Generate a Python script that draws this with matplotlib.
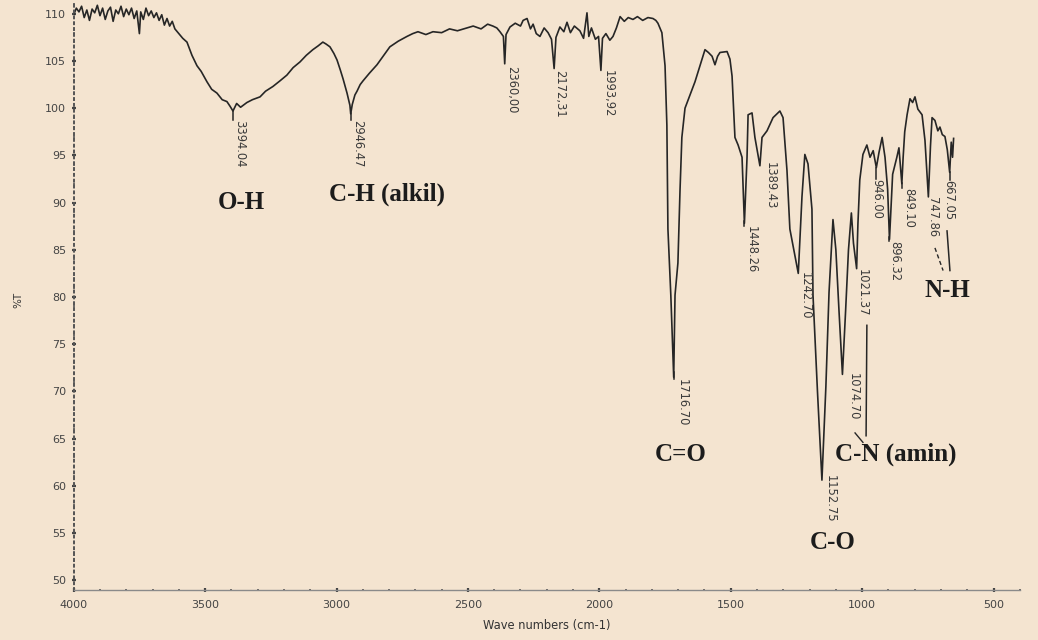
# FTIR spectrum (%T vs wave number) with peak and group labels

import matplotlib
matplotlib.use('Agg')
import matplotlib.pyplot as plt
from matplotlib.transforms import offset_copy
import numpy as np

# spectrum: wave number (cm-1) and %T
wavenumber = [
    4000, 3990, 3980, 3970, 3960, 3950, 3940, 3930, 3920, 3910,
    3900, 3890, 3880, 3870, 3860, 3850, 3840, 3830, 3820, 3810,
    3800, 3790, 3780, 3770, 3760, 3750, 3745, 3735, 3725, 3715,
    3705, 3695, 3685, 3675, 3665, 3655, 3645, 3635, 3625, 3615,
    3600, 3585, 3569, 3550, 3531, 3515, 3493, 3475, 3455, 3435,
    3417, 3405, 3394, 3380, 3365, 3341, 3320, 3291, 3270, 3242,
    3215, 3189, 3165, 3139, 3115, 3090, 3070, 3052, 3040, 3025,
    3010, 2998, 2985, 2975, 2960, 2949, 2946, 2940, 2930, 2922,
    2910, 2899, 2875, 2846, 2820, 2797, 2765, 2732, 2710, 2690,
    2660, 2633, 2600, 2570, 2540, 2504, 2480, 2450, 2425, 2405,
    2390, 2378, 2365, 2360, 2355, 2340, 2320, 2300, 2290, 2275,
    2262, 2252, 2240, 2226, 2210, 2195, 2182, 2172, 2165, 2150,
    2135, 2123, 2110, 2095, 2074, 2060, 2047, 2040, 2030, 2015,
    2003, 1994, 1988, 1975, 1960, 1948, 1935, 1921, 1905, 1890,
    1872, 1855, 1835, 1815, 1796, 1785, 1777, 1762, 1750, 1743,
    1739, 1728, 1717, 1712, 1701, 1693, 1686, 1674, 1655, 1636,
    1617, 1598, 1585, 1571, 1560, 1550, 1541, 1514, 1503, 1495,
    1484, 1472, 1457, 1448, 1438, 1434, 1419, 1408, 1389, 1381,
    1362, 1339, 1313, 1301, 1286, 1275, 1256, 1243, 1229, 1218,
    1206, 1191, 1187, 1170, 1153, 1138, 1126, 1111, 1100, 1088,
    1075, 1063, 1052, 1041, 1033, 1021, 1016, 1009, 997, 982,
    970, 958, 946, 936, 924, 913, 903, 896, 884, 868,
    860, 849, 844, 838, 829, 818, 808, 799, 788, 772,
    761, 748, 740, 734, 723, 712, 704, 695, 685, 676,
    667, 661, 656, 652,
]
transmittance = [
    109.9, 110.6, 110.2, 110.8, 109.6, 110.4, 109.3, 110.5, 110.1, 110.9,
    109.8, 110.6, 109.4, 110.3, 110.7, 109.2, 110.4, 110.0, 110.8, 109.7,
    110.5, 109.9, 110.6, 109.5, 110.3, 107.9, 110.2, 109.4, 110.6, 109.8,
    110.3, 109.6, 110.1, 109.3, 109.9, 108.8, 109.5, 108.7, 109.2, 108.4,
    107.9, 107.4, 107.0, 105.6, 104.5, 103.9, 102.8, 102.0, 101.6, 100.9,
    100.7, 100.2, 99.7, 100.5, 100.1, 100.6, 100.9, 101.2, 101.8, 102.3,
    102.9, 103.5, 104.3, 104.9, 105.6, 106.2, 106.6, 107.0, 106.8, 106.5,
    105.8, 105.1, 104.0, 103.1, 101.6, 100.3, 99.4, 100.4, 101.4, 101.8,
    102.5, 102.9, 103.7, 104.6, 105.6, 106.5, 107.1, 107.6, 107.9, 108.1,
    107.8, 108.1, 108.0, 108.4, 108.2, 108.5, 108.7, 108.4, 108.9, 108.7,
    108.5, 108.1, 107.6, 104.7, 107.8, 108.6, 109.0, 108.7, 109.3, 109.5,
    108.4, 108.9, 107.9, 107.6, 108.5, 108.0, 107.3, 104.2, 107.5, 108.6,
    108.1, 109.1, 108.0, 108.7, 108.2, 107.4, 110.1, 107.6, 108.5, 107.3,
    107.6, 104.0, 107.4, 107.9, 107.2, 107.6, 108.5, 109.7, 109.2, 109.6,
    109.4, 109.7, 109.3, 109.6, 109.5, 109.3, 109.0, 108.0, 104.5, 98.2,
    87.2, 80.2, 71.5, 80.2, 83.6, 91.3, 96.9, 100.0, 101.4, 102.8,
    104.5, 106.2, 105.9, 105.5, 104.6, 105.5, 105.9, 106.0, 105.2, 103.4,
    96.9, 96.1, 94.8, 87.8, 94.8, 99.3, 99.5, 96.9, 93.9, 96.9,
    97.6, 99.0, 99.7, 99.0, 93.4, 87.2, 84.4, 82.5, 90.6, 95.1,
    94.1, 89.3, 80.2, 70.0, 60.6, 70.5, 80.5, 88.2, 85.0, 78.5,
    71.8, 78.5, 85.0, 88.9, 85.7, 83.0, 87.8, 92.4, 95.1, 96.1,
    94.8, 95.5, 93.7, 95.3, 96.9, 94.8, 91.4, 86.1, 93.0, 94.8,
    95.8, 92.0, 94.8, 97.5, 99.3, 101.0, 100.6, 101.2, 99.9, 99.3,
    96.6, 90.6, 96.0, 99.0, 98.7, 97.6, 98.0, 97.2, 97.0, 95.6,
    93.2, 96.4, 94.8, 96.8,
]

# peak labels printed by the instrument software
peak_wn = [3394.04, 2946.47, 2360.00, 2172.31, 1993.92, 1716.70, 1448.26,
           1389.43, 1242.70, 1152.75, 1074.70, 1021.37, 946.00, 896.32,
           849.10, 747.86, 667.05]
peak_text = ['3394.04', '2946.47', '2360,00', '2172,31', '1993,92',
             '1716.70', '1448.26', '1389.43', '1242.70', '1152.75',
             '1074.70', '1021.37', '946.00', '896.32', '849.10',
             '747.86', '667.05']
peak_top = [98.75, 98.75, 104.5, 104.0, 104.0, 71.35, 87.5, 94.3, 82.6,
            61.15, 71.9, 83.0, 92.5, 85.9, 91.5, 90.6, 92.4]

# functional group names
group_text = ['O-H', 'C-H (alkil)', 'C=O', 'C-O', 'C-N (amin)', 'N-H']
group_wn = [3364, 2808, 1689, 1111, 871, 677]
group_t = [90.0, 90.9, 63.3, 54.0, 63.3, 80.7]

bg = '#F4E4D0'
ink = '#262626'

fig = plt.figure(figsize=(10.38, 6.4), dpi=100, facecolor=bg)
ax = fig.add_axes([0.0710, 0.0781, 0.9115, 0.9188])
ax.set_facecolor(bg)

ax.plot(wavenumber, transmittance, color=ink, linewidth=1.2)

ax.set_xlim(4000, 400)
ax.set_ylim(48.96, 111.25)

# peak labels with their short ticks
wn_up = np.array(wavenumber)[::-1]
t_up = np.array(transmittance)[::-1]
label_dx = [7, 7, 7, 6, 7, 8, 7, 10, 7, 8, 11, 6, 0, 5, 7, 4, -1]
for wn, txt, top, dx in zip(peak_wn, peak_text, peak_top, label_dx):
    t_min = np.interp(wn, wn_up, t_up)
    if t_min - top > 0.3:
        ax.plot([wn, wn], [t_min, top], color=ink, linewidth=1.1)
    trans = offset_copy(ax.transData, fig=fig, x=dx, y=0, units='dots')
    ax.text(wn, top, txt, transform=trans, rotation=-90, ha='center',
            va='top', fontsize=8.3, color='#3a3a3a')

# leader lines towards the group names
ax.plot([1027, 997], [65.6, 64.6], color=ink, linewidth=1.0)
ax.plot([982, 985], [77.0, 65.3], color=ink, linewidth=1.1)
ax.plot([723, 692], [85.2, 82.8], color=ink, linewidth=1.0,
        linestyle=(0, (3, 2)))
ax.plot([677, 666], [87.0, 82.8], color=ink, linewidth=1.1)

for txt, wn, t in zip(group_text, group_wn, group_t):
    ax.text(wn, t, txt, ha='center', va='center', fontsize=18,
            fontweight='bold', family='Liberation Serif', color='#1c1c1c')

# axes look: only left and bottom, dotted minor ticks
for side in ['top', 'right']:
    ax.spines[side].set_visible(False)
ax.spines['bottom'].set_color('#8a8a8a')
ax.spines['bottom'].set_linewidth(1.0)
ax.spines['left'].set_color('#555555')
ax.spines['left'].set_linewidth(1.4)
ax.spines['left'].set_linestyle((0, (1, 2)))

ax.set_xticks([4000, 3500, 3000, 2500, 2000, 1500, 1000, 500])
ax.set_xticks(np.arange(400, 4001, 100), minor=True)
ax.set_yticks(np.arange(50, 111, 5))
ax.set_yticks(np.arange(49, 112, 1), minor=True)
ax.tick_params(which='major', direction='inout', length=3, width=1.6,
               color='#444444', labelsize=8, labelcolor='#444444')
ax.tick_params(which='minor', direction='inout', length=2, width=1.2,
               color='#555555')
ax.tick_params(axis='x', which='major', pad=6)
ax.tick_params(axis='y', which='major', pad=4)

fig.text(18 / 1038, 1 - 300 / 640, '%T', rotation=90, ha='center',
         va='center', fontsize=7.5, color='#333333')
fig.text(547 / 1038, 1 - 626 / 640, 'Wave numbers (cm-1)', ha='center',
         va='center', fontsize=8.3, color='#333333')

fig.savefig('out.png', dpi=100, facecolor=bg)
